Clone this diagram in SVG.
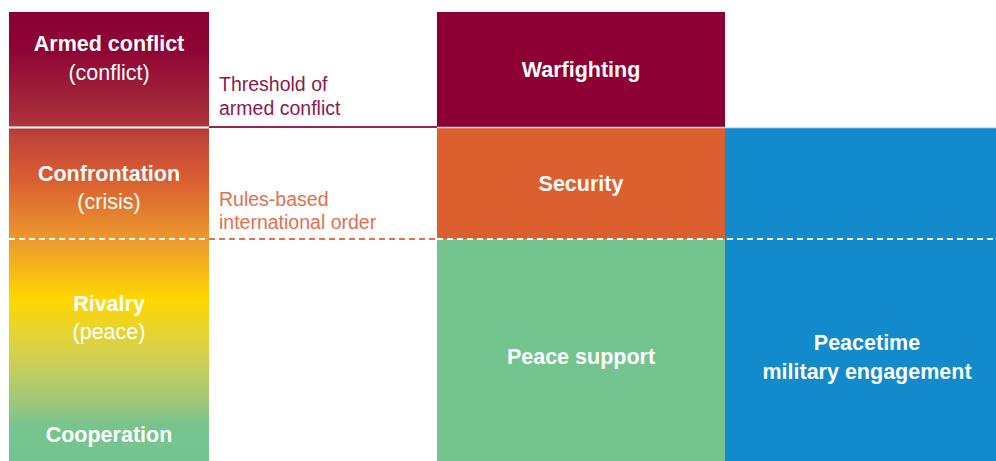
<svg xmlns="http://www.w3.org/2000/svg" width="996" height="461" viewBox="0 0 996 461">
<defs>
<linearGradient id="scale" x1="0" y1="12" x2="0" y2="461" gradientUnits="userSpaceOnUse">
<stop offset="0" stop-color="#8A0034"/>
<stop offset="0.085" stop-color="#8E0535"/>
<stop offset="0.24" stop-color="#A8303A"/>
<stop offset="0.28" stop-color="#C0443A"/>
<stop offset="0.374" stop-color="#DA5E30"/>
<stop offset="0.506" stop-color="#EC992E"/>
<stop offset="0.641" stop-color="#FFD700"/>
<stop offset="0.753" stop-color="#D8D24A"/>
<stop offset="0.864" stop-color="#A0C878"/>
<stop offset="0.92" stop-color="#78C48E"/>
<stop offset="1" stop-color="#74C491"/>
</linearGradient>
<style>
text{font-family:"Liberation Sans",Arial,sans-serif;}
.t{fill:#FFFFFF;font-size:21.5px;font-weight:bold;text-anchor:middle;}
.s{fill:#FFFFFF;font-size:21.5px;text-anchor:middle;}
.lab{font-size:19.5px;}
.dash{stroke-width:2;stroke-dasharray:6 4;fill:none;}
</style>
</defs>
<rect width="996" height="461" fill="#FFFFFF"/>
<g id="scale-bar">
<rect x="9" y="12" width="200" height="449" fill="url(#scale)"/>
<text class="t" x="109" y="51">Armed conflict</text>
<text class="s" x="109" y="80">(conflict)</text>
<text class="t" x="109" y="181">Confrontation</text>
<text class="s" x="109" y="209">(crisis)</text>
<text class="t" x="109" y="311">Rivalry</text>
<text class="s" x="109" y="339">(peace)</text>
<text class="t" x="109" y="442">Cooperation</text>
</g>
<g id="warfighting">
<rect x="437" y="12" width="288" height="115" fill="#8C0034"/>
<text class="t" x="581" y="77">Warfighting</text>
</g>
<g id="security">
<rect x="437" y="128" width="288" height="111" fill="#DB5F2F"/>
<text class="t" x="581" y="191">Security</text>
</g>
<g id="peace-support">
<rect x="437" y="239" width="288" height="222" fill="#74C490"/>
<text class="t" x="581" y="364">Peace support</text>
</g>
<g id="peacetime-engagement">
<rect x="725" y="128" width="271" height="333" fill="#128ACB"/>
<text class="t" x="867" y="350">Peacetime</text>
<text class="t" x="867" y="379">military engagement</text>
</g>
<g id="connectors">
<line x1="9" y1="127.5" x2="209" y2="127.5" stroke="#FFFFFF" stroke-width="2"/>
<line x1="209" y1="127" x2="437" y2="127" stroke="#9B2350" stroke-width="2"/>
<line x1="437" y1="127.5" x2="725" y2="127.5" stroke="#F3D6DE" stroke-width="1.5"/>
<line x1="725" y1="127.5" x2="996" y2="127.5" stroke="#CFE3EF" stroke-width="1.5"/>
<line class="dash" x1="9" y1="239" x2="209" y2="239" stroke="#FFFFFF"/>
<line class="dash" x1="209" y1="239" x2="437" y2="239" stroke="#E8704A"/>
<line class="dash" x1="437" y1="239" x2="996" y2="239" stroke="#FFFFFF"/>
</g>
<g id="threshold-label">
<text class="lab" x="219" y="91" fill="#8B1A4B">Threshold of</text>
<text class="lab" x="219" y="115" fill="#8B1A4B">armed conflict</text>
</g>
<g id="order-label">
<text class="lab" x="219" y="206" fill="#E2704F">Rules-based</text>
<text class="lab" x="219" y="229" fill="#E2704F">international order</text>
</g>
</svg>
